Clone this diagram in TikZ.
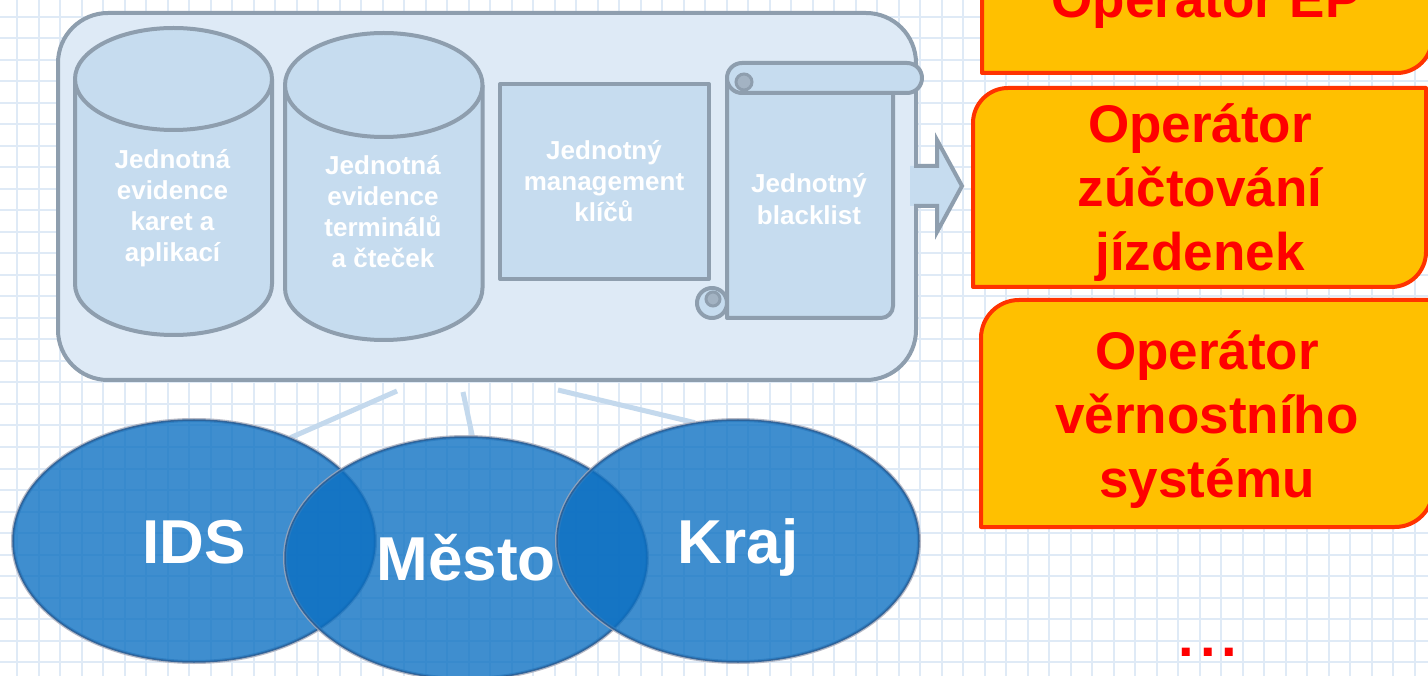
\documentclass[tikz,border=0pt]{standalone}
\usepackage{fontspec}
\setmainfont{Liberation Sans}
\usetikzlibrary{shapes.geometric}
\definecolor{gridc}{HTML}{DFEAF6}
\definecolor{panelfill}{HTML}{DEEAF6}
\definecolor{edgec}{HTML}{8E9EAE}
\definecolor{cellfill}{HTML}{C6DCEF}
\definecolor{curlc}{HTML}{A3B3C3}
\definecolor{vennc}{HTML}{0A6FC2}
\definecolor{vennedge}{HTML}{2B5F96}
\definecolor{haloc}{HTML}{A6A9B8}
\definecolor{linkc}{HTML}{C4D9ED}
\definecolor{ofill}{HTML}{FFC000}
\definecolor{oedge}{HTML}{FF3300}
\definecolor{otextc}{HTML}{FF0000}
\pgfdeclarelayer{back}
\pgfdeclarelayer{links}
\pgfsetlayers{back,links,main}
% cx, rx, top y, bottom y, ry
\newcommand\dbcylinder[5]{%
  \path[cell] ({#1-#2},{#3+#5}) -- ({#1-#2},{#4-#5})
    .. controls ({#1-#2},{#4-0.4477*#5}) and ({#1-0.5523*#2},#4) .. (#1,#4)
    .. controls ({#1+0.5523*#2},#4) and ({#1+#2},{#4-0.4477*#5}) .. ({#1+#2},{#4-#5})
    -- ({#1+#2},{#3+#5});
  \path[cell] (#1,{#3+#5}) ellipse [x radius=#2, y radius=#5];}
\begin{document}
\begin{tikzpicture}[x=1pt,y=-1pt,
  gridline/.style={draw=gridc, line width=2pt},
  panel/.style={draw=edgec, fill=panelfill, line width=4pt},
  cell/.style={draw=edgec, fill=cellfill, line width=4pt, line join=round},
  curl/.style={draw=edgec, fill=curlc, line width=3pt},
  celltext/.style={text=white, font=\fontsize{26}{31}\selectfont\bfseries, anchor=base, inner sep=0pt},
  venn/.style={ellipse, minimum width=362pt, minimum height=242pt, inner sep=0pt,
    fill=vennc, fill opacity=0.78, text opacity=1, draw=vennedge, draw opacity=0.9,
    line width=1.5pt, text=white, font=\fontsize{62}{74}\selectfont\bfseries,
    text height=44pt, text depth=0pt,
    preaction={draw=haloc, fill=none, line width=4pt, draw opacity=0.8}},
  link/.style={draw=linkc, line width=5pt},
  obox/.style={draw=oedge, fill=ofill, line width=4pt, line join=round},
  otext/.style={text=otextc, font=\fontsize{53}{64}\selectfont\bfseries, anchor=base, inner sep=0pt}]

\useasboundingbox (0,0) rectangle (1428,676);
\begin{pgfonlayer}{back}
  \fill[white] (0,0) rectangle (1428,676);
  \foreach \i in {0,...,66} \draw[gridline] ({17+21.5*\i},0) -- ({17+21.5*\i},676);
  \foreach \j in {0,...,31} \draw[gridline] (0,{17+21.5*\j}) -- (1428,{17+21.5*\j});
\end{pgfonlayer}

% main panel
\node[panel, rounded corners=50pt, minimum width=858pt, minimum height=367pt, inner sep=0pt] (panel) at (487,196.5) {};

% cylinders
\dbcylinder{173.5}{98.5}{28}{335}{51}
\dbcylinder{383.75}{98.75}{33}{340}{52}
\node[celltext] (c1a) at (172.5,169) {Jednotná};
\node[celltext] (c1b) at (172.5,200) {evidence};
\node[celltext] (c1c) at (172.5,231) {karet a};
\node[celltext] (c1d) at (172.5,262) {aplikací};
\node[celltext] (c2a) at (383,175) {Jednotná};
\node[celltext] (c2b) at (383,206) {evidence};
\node[celltext] (c2c) at (383,237) {terminálů};
\node[celltext] (c2d) at (383,268) {a čteček};

% key management box
\node[cell, minimum width=209pt, minimum height=195pt, inner sep=0pt] (keys) at (604.5,181.5) {};
\node[celltext] (k1) at (604,160) {Jednotný};
\node[celltext] (k2) at (604,191) {management};
\node[celltext] (k3) at (604,222) {klíčů};

% scroll
\path[cell] (727,80) -- (727,318) -- (881,318) .. controls (887.6,318) and (893,312.6) .. (893,306) -- (893,90) -- cycle;
\path[cell] (712,303) circle[radius=15];
\path[curl] (713,299) circle[radius=7];
\path[cell, rounded corners=15pt] (727,63) rectangle (922,93);
\path[curl] (744,82) circle[radius=8];
\node[celltext] (b1) at (809,193) {Jednotný};
\node[celltext] (b2) at (809,225) {blacklist};

% block arrow
\path[fill=cellfill] (910,166) -- (937,166) -- (937,140) -- (962,186) -- (937,232) -- (937,206) -- (910,206) -- cycle;
\draw[edgec, line width=4pt, line join=miter] (914,166) -- (937,166) -- (937,140) -- (962,186) -- (937,232) -- (937,206) -- (914,206);

% orange boxes
\path[obox] (982,-30) -- (982,73) -- (1397,73) .. controls (1416.3,73) and (1432,57.3) .. (1432,38) -- (1432,-30) -- cycle;
\node[otext] (ep) at (1206,18) {Operátor EP};
\path[obox] (973,287) -- (973,123) .. controls (973,103.7) and (988.7,88) .. (1008,88) -- (1426,88) -- (1426,252) .. controls (1426,271.3) and (1410.3,287) .. (1391,287) -- cycle;
\node[otext] (z1) at (1200,143) {Operátor};
\node[otext] (z2) at (1200,207) {zúčtování};
\node[otext] (z3) at (1200,271) {jízdenek};
\path[obox] (981,527) -- (981,338) .. controls (981,317) and (998,300) .. (1019,300) -- (1433,300) -- (1433,489) .. controls (1433,510) and (1416,527) .. (1395,527) -- cycle;
\node[otext] (v1) at (1207,370) {Operátor};
\node[otext] (v2) at (1207,434) {věrnostního};
\node[otext] (v3) at (1207,497) {systému};
\node[otext, font=\fontsize{56}{64}\selectfont\bfseries] (more) at (1208,656) {.\kern6pt.\kern6pt.};

% venn
\node[venn] (ids) at (194,541) {IDS};
\node[venn] (mesto) at (466,558) {Město};
\node[venn] (kraj) at (738,541) {Kraj};

\coordinate (s1) at (397,391);
\coordinate (s2) at (463,392);
\coordinate (s3) at (558,390);
\begin{pgfonlayer}{links}
  \draw[link] (s1) -- (ids.47);
  \draw[link] (s2) -- (mesto.87);
  \draw[link] (s3) -- (kraj.110);
\end{pgfonlayer}
\end{tikzpicture}
\end{document}
